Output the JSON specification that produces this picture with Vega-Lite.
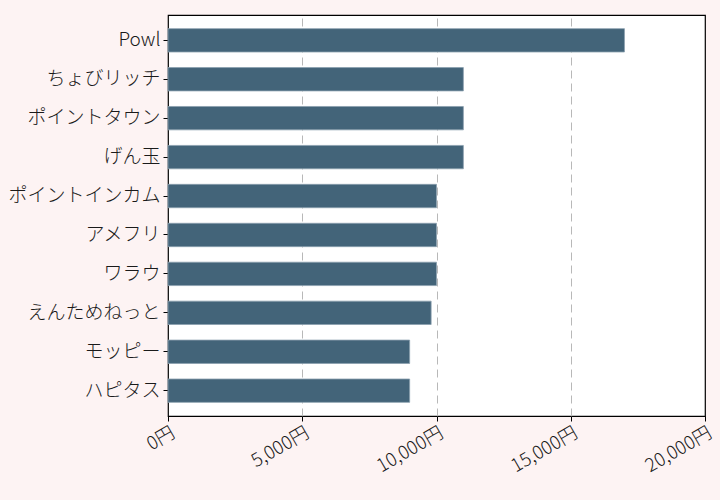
{
  "$schema": "https://vega.github.io/schema/vega-lite/v6.json",
  "width": 537,
  "height": 401,
  "autosize": {"type": "none"},
  "padding": {"left": 168, "top": 15, "right": 15, "bottom": 84},
  "background": "#fdf3f3",
  "config": {
    "view": {"stroke": "#000000", "strokeWidth": 1.2, "fill": "#ffffff"},
    "font": "Noto Sans CJK JP",
    "axis": {
      "labelFont": "Noto Sans CJK JP",
      "labelFontWeight": 300,
      "labelColor": "#1a1a1a",
      "tickColor": "#000000",
      "domainColor": "#000000"
    }
  },
  "data": {
    "values": [
      {"site": "Powl", "amount": 17000},
      {"site": "ちょびリッチ", "amount": 11000},
      {"site": "ポイントタウン", "amount": 11000},
      {"site": "げん玉", "amount": 11000},
      {"site": "ポイントインカム", "amount": 10000},
      {"site": "アメフリ", "amount": 10000},
      {"site": "ワラウ", "amount": 10000},
      {"site": "えんためねっと", "amount": 9800},
      {"site": "モッピー", "amount": 9000},
      {"site": "ハピタス", "amount": 9000}
    ]
  },
  "mark": {
    "type": "bar",
    "color": "#436479",
    "stroke": "#8aa0ae",
    "strokeWidth": 0.8
  },
  "encoding": {
    "y": {
      "field": "site",
      "type": "nominal",
      "sort": null,
      "title": null,
      "scale": {"paddingInner": 0.4, "paddingOuter": 0.35},
      "axis": {
        "grid": false,
        "domain": false,
        "tickSize": 5,
        "labelPadding": 3,
        "labelFontSize": 19,
        "labelLimit": 200
      }
    },
    "x": {
      "field": "amount",
      "type": "quantitative",
      "title": null,
      "scale": {"domain": [0, 20000], "nice": false},
      "axis": {
        "values": [0, 5000, 10000, 15000, 20000],
        "labelExpr": "format(datum.value, ',') + '円'",
        "labelAngle": -30,
        "labelAlign": "right",
        "labelBaseline": "top",
        "labelFontSize": 18.5,
        "labelPadding": 2,
        "tickSize": 5,
        "domain": false,
        "grid": true,
        "gridColor": "#b8b8b8",
        "gridDash": [8, 5],
        "gridWidth": 1,
        "gridOpacity": {
          "condition": {"test": "datum.value == 0 || datum.value == 20000", "value": 0},
          "value": 1
        },
        "labelFlush": false,
        "labelOverlap": false
      }
    }
  }
}
